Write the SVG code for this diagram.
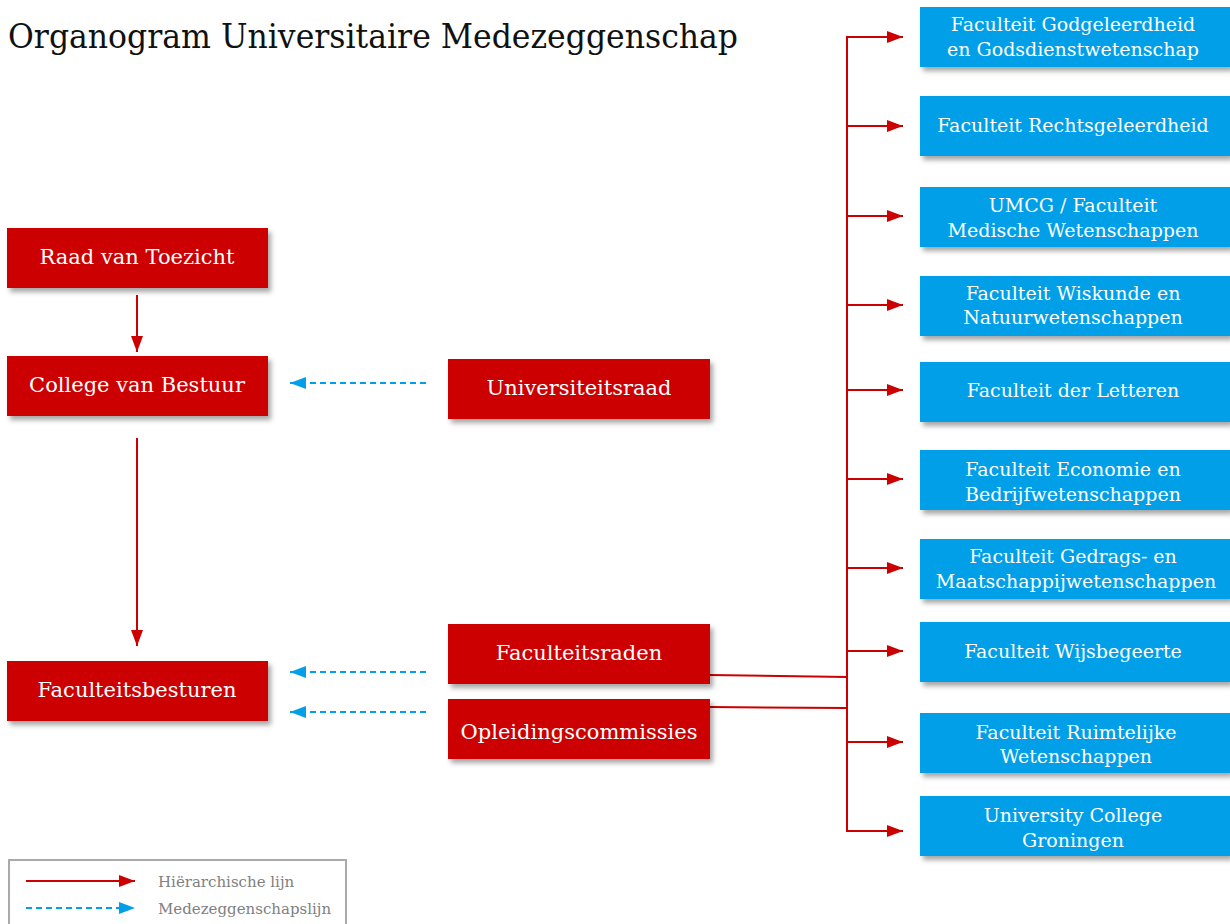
<svg xmlns="http://www.w3.org/2000/svg" width="1230" height="924" viewBox="0 0 1230 924">
<defs>
<filter id="sh" x="-10%" y="-20%" width="130%" height="160%">
<feDropShadow dx="3" dy="4" stdDeviation="2.5" flood-color="#000" flood-opacity="0.35"/>
</filter>
<marker id="ar" markerWidth="16" markerHeight="12" refX="16" refY="6" orient="auto" markerUnits="userSpaceOnUse">
<path d="M0,0 L16,6 L0,12 Z" fill="#cc0000"/>
</marker>
<marker id="ab" markerWidth="16" markerHeight="12" refX="16" refY="6" orient="auto" markerUnits="userSpaceOnUse">
<path d="M0,0 L16,6 L0,12 Z" fill="#009fe8"/>
</marker>
</defs>
<style>
.r{fill:#cc0000;filter:url(#sh)}
.b{fill:#009fe8;filter:url(#sh)}
.t{font-family:"DejaVu Serif","Liberation Serif",serif;font-size:19px;fill:#fff;text-anchor:middle}
.tr{font-family:"DejaVu Serif","Liberation Serif",serif;font-size:21px;fill:#fff;text-anchor:middle}
.h{stroke:#cc0000;stroke-width:2;fill:none}
.d{stroke:#009fe8;stroke-width:2;fill:none;stroke-dasharray:6,4}
.lg{font-family:"DejaVu Serif","Liberation Serif",serif;font-size:15px;fill:#808080}
</style>
<rect width="1230" height="924" fill="#fff"/>
<text x="8" y="48" font-family="DejaVu Serif, Liberation Serif, serif" font-size="34" fill="#111" textLength="730" lengthAdjust="spacingAndGlyphs">Organogram Universitaire Medezeggenschap</text>

<g id="connectors">
<line class="h" x1="137" y1="295" x2="137" y2="352" marker-end="url(#ar)"/>
<line class="h" x1="137" y1="438" x2="137" y2="646" marker-end="url(#ar)"/>
<line class="d" x1="426" y1="383" x2="290" y2="383" marker-end="url(#ab)"/>
<line class="d" x1="426" y1="672" x2="290" y2="672" marker-end="url(#ab)"/>
<line class="d" x1="426" y1="712" x2="290" y2="712" marker-end="url(#ab)"/>
<polyline class="h" points="710,675 847,677"/>
<polyline class="h" points="710,707 847,708"/>
<line class="h" x1="847" y1="36" x2="847" y2="832"/>
<line class="h" x1="846" y1="37" x2="903" y2="37" marker-end="url(#ar)"/>
<line class="h" x1="846" y1="126" x2="903" y2="126" marker-end="url(#ar)"/>
<line class="h" x1="846" y1="216" x2="903" y2="216" marker-end="url(#ar)"/>
<line class="h" x1="846" y1="305" x2="903" y2="305" marker-end="url(#ar)"/>
<line class="h" x1="846" y1="390" x2="903" y2="390" marker-end="url(#ar)"/>
<line class="h" x1="846" y1="479" x2="903" y2="479" marker-end="url(#ar)"/>
<line class="h" x1="846" y1="568" x2="903" y2="568" marker-end="url(#ar)"/>
<line class="h" x1="846" y1="651" x2="903" y2="651" marker-end="url(#ar)"/>
<line class="h" x1="846" y1="742" x2="903" y2="742" marker-end="url(#ar)"/>
<line class="h" x1="846" y1="831" x2="903" y2="831" marker-end="url(#ar)"/>
</g>

<g id="raad"><rect class="r" x="7" y="228" width="261" height="60"/><text class="tr" x="137" y="264">Raad van Toezicht</text></g>
<g id="college"><rect class="r" x="7" y="356" width="261" height="60"/><text class="tr" x="137" y="392">College van Bestuur</text></g>
<g id="faculteitsbesturen"><rect class="r" x="7" y="661" width="261" height="60"/><text class="tr" x="137" y="697">Faculteitsbesturen</text></g>
<g id="universiteitsraad"><rect class="r" x="448" y="359" width="262" height="60"/><text class="tr" x="579" y="395">Universiteitsraad</text></g>
<g id="faculteitsraden"><rect class="r" x="448" y="624" width="262" height="60"/><text class="tr" x="579" y="660">Faculteitsraden</text></g>
<g id="opleidingscommissies"><rect class="r" x="448" y="699" width="262" height="60"/><text class="tr" x="579" y="739">Opleidingscommissies</text></g>

<g id="f1"><rect class="b" x="920" y="7" width="310" height="60"/><text class="t" x="1073" y="31">Faculteit Godgeleerdheid</text><text class="t" x="1073" y="56">en Godsdienstwetenschap</text></g>
<g id="f2"><rect class="b" x="920" y="96" width="310" height="60"/><text class="t" x="1073" y="132">Faculteit Rechtsgeleerdheid</text></g>
<g id="f3"><rect class="b" x="920" y="187" width="310" height="60"/><text class="t" x="1073" y="212">UMCG / Faculteit</text><text class="t" x="1073" y="237">Medische Wetenschappen</text></g>
<g id="f4"><rect class="b" x="920" y="276" width="310" height="60"/><text class="t" x="1073" y="300">Faculteit Wiskunde en</text><text class="t" x="1073" y="324">Natuurwetenschappen</text></g>
<g id="f5"><rect class="b" x="920" y="362" width="310" height="60"/><text class="t" x="1073" y="397">Faculteit der Letteren</text></g>
<g id="f6"><rect class="b" x="920" y="450" width="310" height="60"/><text class="t" x="1073" y="476">Faculteit Economie en</text><text class="t" x="1073" y="501">Bedrijfwetenschappen</text></g>
<g id="f7"><rect class="b" x="920" y="539" width="310" height="60"/><text class="t" x="1073" y="563">Faculteit Gedrags- en</text><text class="t" x="1076" y="588">Maatschappijwetenschappen</text></g>
<g id="f8"><rect class="b" x="920" y="622" width="310" height="60"/><text class="t" x="1073" y="658">Faculteit Wijsbegeerte</text></g>
<g id="f9"><rect class="b" x="920" y="713" width="310" height="60"/><text class="t" x="1076" y="739">Faculteit Ruimtelijke</text><text class="t" x="1076" y="763">Wetenschappen</text></g>
<g id="f10"><rect class="b" x="920" y="796" width="310" height="60"/><text class="t" x="1073" y="822">University College</text><text class="t" x="1073" y="847">Groningen</text></g>

<g id="legend">
<rect x="9" y="860" width="337" height="70" fill="#fff" stroke="#aaa" stroke-width="2"/>
<line class="h" x1="26" y1="881" x2="135" y2="881" marker-end="url(#ar)"/>
<line class="d" x1="26" y1="908" x2="135" y2="908" marker-end="url(#ab)"/>
<text class="lg" x="158" y="887">Hiërarchische lijn</text>
<text class="lg" x="158" y="914">Medezeggenschapslijn</text>
</g>
</svg>
